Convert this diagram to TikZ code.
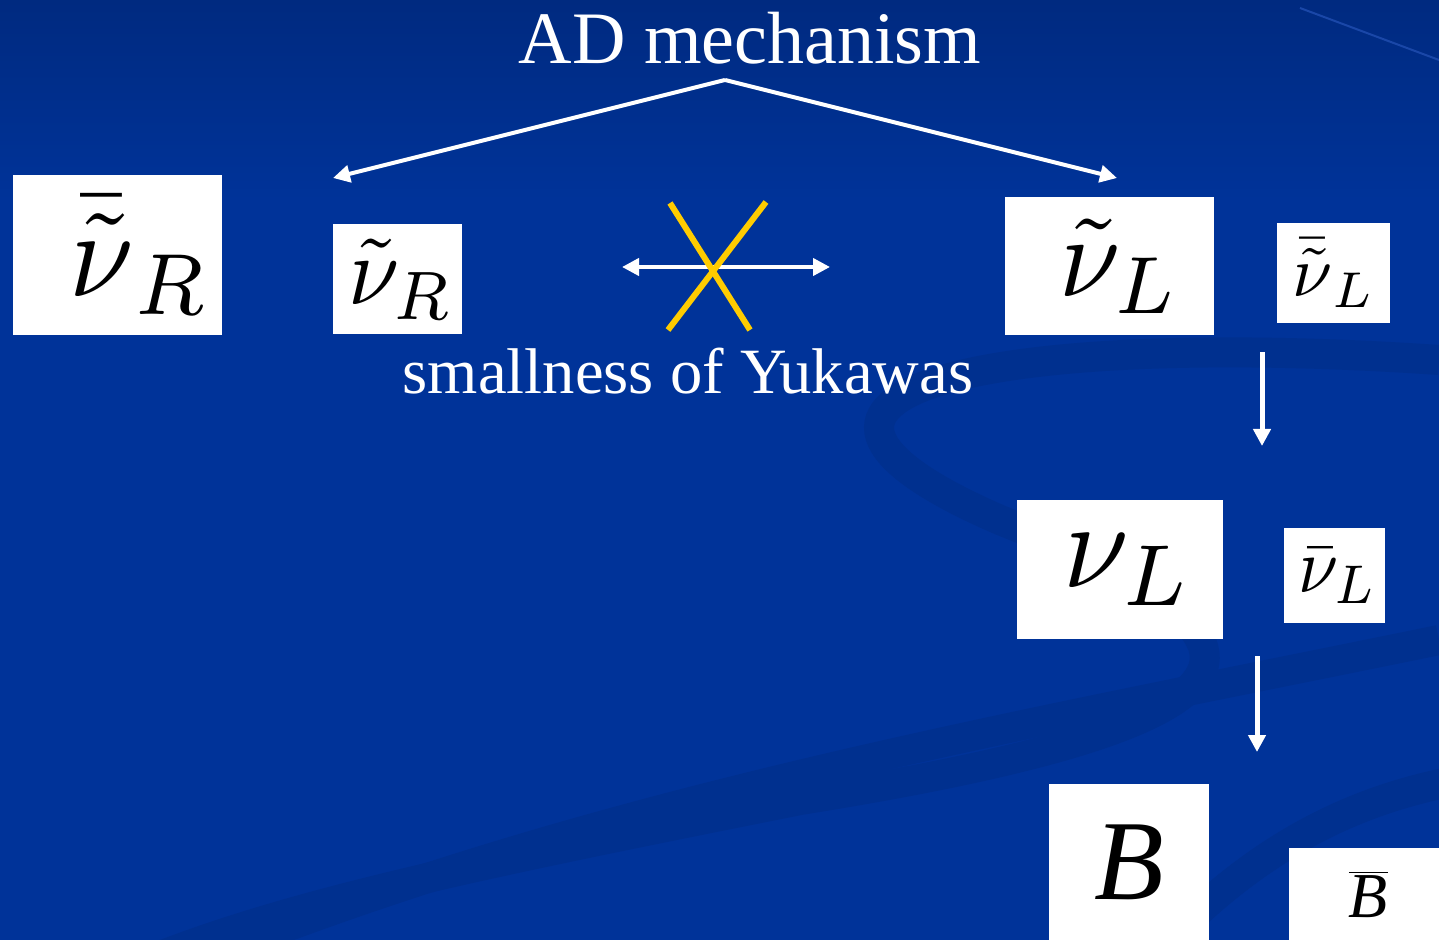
\documentclass[tikz,border=0pt]{standalone}
\usepackage{fontspec}
\setmainfont{Liberation Serif}
\usetikzlibrary{arrows.meta,positioning}
\definecolor{slide}{HTML}{003399}
\definecolor{slidetop}{HTML}{002A80}
\definecolor{swoosh}{HTML}{00308F}
\definecolor{glint}{HTML}{1A47A8}
\definecolor{cross}{HTML}{FFCC00}
\tikzset{card/.style={fill=white,inner sep=0pt,anchor=north west}, arr/.style={-{Triangle[length=8.5pt,width=8.5pt]},line width=2pt,draw=white}, down/.style={arr,line width=2.5pt}, dbl/.style={{Triangle[length=8.5pt,width=8.5pt]}-{Triangle[length=8.5pt,width=8.5pt]},line width=2pt,draw=white}, veto/.style={draw=cross,line width=3pt}, band/.style={draw=swoosh,line width=15pt}}

\begin{document}
\begin{tikzpicture}[x=0.5pt,y=-0.5pt]
\useasboundingbox(0,0)rectangle(1439,940);
\fill[slide](0,0)rectangle(1439,940);\shade[top color=slidetop,bottom color=slide](0,0)rectangle(1439,200);
\begin{scope}
\clip(0,0)rectangle(1439,940);
\draw[band](1439,360)..controls(1000,330)and(700,390)..(1000,520)..controls(1300,640)and(1300,720)..(800,800)..controls(500,860)and(300,900)..(150,960);
\draw[band](200,960)..controls(600,800)and(1000,730)..(1439,640);
\draw[band](1150,960)..controls(1250,850)and(1350,800)..(1460,780);
\draw[glint,line width=1pt](1300,8)--(1439,60);
\end{scope}
\node[font=\fontsize{37}{40}\selectfont,text=white](title)at(750,38){AD mechanism};
\node[font=\fontsize{32.3}{36}\selectfont,text=white](yuk)at(688,371){smallness of Yukawas};
\node[card,minimum width=104.5pt,minimum height=80pt](snuRbar)at(13,175){\hspace*{22pt}\scalebox{5.8}[6.2]{$\bar{\tilde\nu}_R$}};
\node[card,minimum width=64.5pt,minimum height=55pt](snuR)at(333,224){\hspace*{3pt}\scalebox{4.6}[4.9]{$\tilde\nu_R$}};
\node[card,minimum width=104.5pt,minimum height=69pt](snuL)at(1005,197){\hspace*{10pt}\scalebox{5.5}[5.8]{$\tilde\nu_L$}};
\node[card,minimum width=56.5pt,minimum height=50pt](snuLbar)at(1277,223){\scalebox{3.6}{$\bar{\tilde\nu}_L$}};
\node[card,minimum width=103pt,minimum height=69.5pt](nuL)at(1017,500){\hspace*{8pt}\scalebox{5.9}[6.2]{$\nu_L$}};
\node[card,minimum width=50.5pt,minimum height=47.5pt](nuLbar)at(1284,528){\hspace*{3pt}\scalebox{3.6}[3.9]{$\bar\nu_L$}};
\node[card,minimum width=80pt,minimum height=78pt](bary)at(1049,784){\fontsize{57}{60}\selectfont\itshape B};
\node[card,minimum width=75pt,minimum height=46pt](barybar)at(1289,848){\hspace*{4pt}$\overline{\hbox{\fontsize{32}{34}\selectfont\itshape B}}$};
\coordinate(apex)at(725,80);\coordinate(lend)at(333,178);\coordinate(rend)at(1117,178);
\draw[arr](apex)--(lend);\draw[arr](apex)--(rend);
\coordinate(hl)at(622,267);\coordinate(hr)at(830,267);\draw[dbl](hl)--(hr);
\draw[veto](670,203)--(750,330);\draw[veto](766,202)--(668,330);
\coordinate(d1a)at(1262,352);\coordinate(d1b)at(1262,446);\draw[down](d1a)--(d1b);
\coordinate(d2a)at(1257,656);\coordinate(d2b)at(1257,752);\draw[down](d2a)--(d2b);
\end{tikzpicture}
\end{document}
